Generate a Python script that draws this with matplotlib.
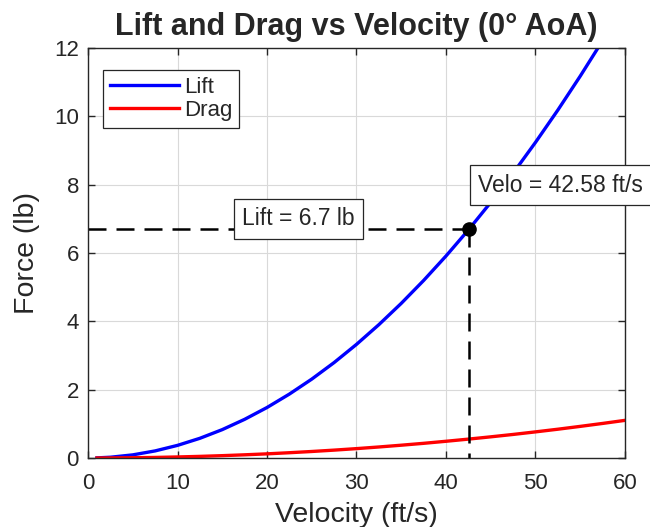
"""Lift and drag versus velocity at 0 deg angle of attack."""

import matplotlib
import matplotlib.pyplot as plt

matplotlib.use('Agg')

plt.rcParams['font.family'] = ['Liberation Sans', 'DejaVu Sans']

# Values
velocity = [1, 2.5, 5, 7.5, 10, 12.5, 15, 17.5, 20, 22.5, 25, 27.5, 30, 32.5,
            35, 37.5, 40, 42.5, 45, 47.5, 50, 52.5, 55, 57.5, 60]
lift = [0.004, 0.023, 0.092, 0.208, 0.37, 0.577, 0.831, 1.132, 1.478, 1.871,
        2.309, 2.794, 3.326, 3.903, 4.526, 5.196, 5.912, 6.674, 7.482, 8.337,
        9.238, 10.184, 11.177, 12.216, 13.302]
drag = [0.0003, 0.002, 0.008, 0.017, 0.031, 0.048, 0.069, 0.094, 0.122, 0.155,
        0.191, 0.231, 0.275, 0.323, 0.375, 0.43, 0.49, 0.553, 0.62, 0.69,
        0.765, 0.843, 0.926, 1.012, 1.102]

tip_velocity = 42.58
tip_lift = 6.7

text_color = '#262626'

fig = plt.figure(figsize=(6.5, 5.27), dpi=100)
ax = fig.add_axes([0.1354, 0.1309, 0.8261, 0.778])

ax.plot(velocity, lift, color='#0000ff', linewidth=2.4, label='Lift')
ax.plot(velocity, drag, color='#ff0000', linewidth=2.4, label='Drag')

# Data tip guides
dash = (0, (7.2, 4.0))
ax.plot([0, tip_velocity], [tip_lift, tip_lift], color='black', linewidth=1.8,
        linestyle=dash)
ax.plot([tip_velocity, tip_velocity], [tip_lift, 0], color='black', linewidth=1.8,
        linestyle=dash)
ax.plot(tip_velocity, tip_lift, 'o', color='black', markersize=9.5, zorder=5)

box = dict(boxstyle='square,pad=0.36', facecolor='white', edgecolor='#262626', linewidth=0.9)
ax.text(23.5, 7.0, f'Lift = {tip_lift} lb', fontsize=16.5, color=text_color,
        ha='center', va='center', bbox=box, zorder=6)
ax.text(43.58, 7.99, f'Velo = {tip_velocity} ft/s', fontsize=16.5, color=text_color,
        ha='left', va='center', bbox=box, zorder=6, clip_on=False)

ax.set_xlim(0, 60)
ax.set_ylim(0, 12)
ax.set_xticks(range(0, 61, 10))
ax.set_yticks(range(0, 13, 2))
ax.tick_params(direction='in', top=True, right=True, labelsize=16,
               colors=text_color, length=5, width=1)
ax.tick_params(axis='x', pad=10.5)
ax.tick_params(axis='y', pad=6.5)
for spine in ax.spines.values():
    spine.set_color('#262626')
    spine.set_linewidth(1.0)
ax.grid(True, color='#d9d9d9', linewidth=0.8)
ax.set_axisbelow(True)

ax.set_xlabel('Velocity (ft/s)', fontsize=20.5, color=text_color, labelpad=6)
ax.set_ylabel('Force (lb)', fontsize=20.5, color=text_color, labelpad=10)
ax.set_title('Lift and Drag vs Velocity (0° AoA)', fontsize=22, fontweight='bold',
             color=text_color, pad=9.5)

leg = ax.legend(loc='upper left', bbox_to_anchor=(0.028, 0.946), fontsize=16,
                fancybox=False, framealpha=1, edgecolor='#262626', handlelength=3.1,
                handletextpad=0.25, borderpad=0.3, labelspacing=0.1, borderaxespad=0)
leg.get_frame().set_linewidth(0.9)
for t in leg.get_texts():
    t.set_color(text_color)

plt.savefig('out.png', dpi=100)
plt.close(fig)
